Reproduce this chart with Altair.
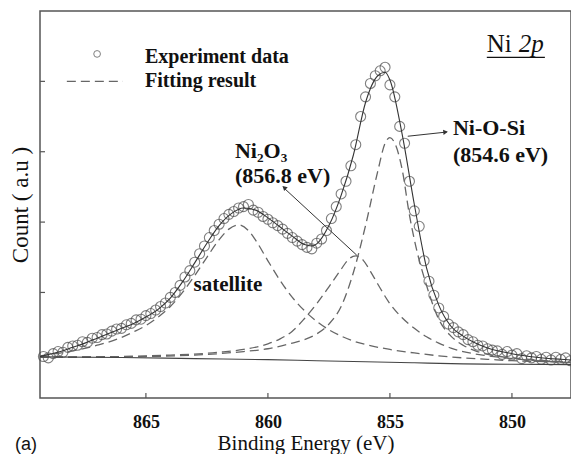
import altair as alt
import pandas as pd

# ---------------- data ----------------
energy = [869.2, 869.0, 868.8, 868.6, 868.4, 868.2, 868.0, 867.8, 867.6, 867.4,
          867.2, 867.0, 866.8, 866.6, 866.4, 866.2, 866.0, 865.8, 865.6, 865.4,
          865.2, 865.0, 864.8, 864.6, 864.4, 864.2, 864.0, 863.8, 863.6, 863.4,
          863.2, 863.0, 862.8, 862.6, 862.4, 862.2, 862.0, 861.8, 861.6, 861.4,
          861.2, 861.0, 860.8, 860.6, 860.4, 860.2, 860.0, 859.8, 859.6, 859.4,
          859.2, 859.0, 858.8, 858.6, 858.4, 858.2, 858.0, 857.8, 857.6, 857.4,
          857.2, 857.0, 856.8, 856.6, 856.4, 856.2, 856.0, 855.8, 855.6, 855.4,
          855.2, 855.0, 854.8, 854.6, 854.4, 854.2, 854.0, 853.8, 853.6, 853.4,
          853.2, 853.0, 852.8, 852.6, 852.4, 852.2, 852.0, 851.8, 851.6, 851.4,
          851.2, 851.0, 850.8, 850.6, 850.4, 850.2, 850.0, 849.8, 849.6, 849.4,
          849.2, 849.0, 848.8, 848.6, 848.4, 848.2, 848.0, 847.8, 847.6]
counts = [0.09, 0.07, 0.13, 0.16, 0.15, 0.22, 0.24, 0.25, 0.30, 0.29,
          0.35, 0.36, 0.40, 0.41, 0.45, 0.48, 0.49, 0.54, 0.56, 0.61,
          0.62, 0.67, 0.70, 0.75, 0.80, 0.85, 0.93, 1.00, 1.10, 1.22,
          1.31, 1.43, 1.55, 1.66, 1.78, 1.88, 1.97, 2.05, 2.11, 2.15,
          2.20, 2.22, 2.25, 2.17, 2.14, 2.08, 2.04, 1.99, 1.95, 1.90,
          1.84, 1.78, 1.73, 1.68, 1.64, 1.62, 1.70, 1.76, 1.88, 2.05,
          2.22, 2.40, 2.58, 2.80, 3.10, 3.50, 3.78, 3.97, 4.08, 4.15,
          4.20, 3.95, 3.78, 3.36, 3.12, 2.58, 2.16, 1.94, 1.45, 1.16,
          0.96, 0.78, 0.66, 0.55, 0.50, 0.44, 0.40, 0.33, 0.30, 0.25,
          0.24, 0.20, 0.18, 0.17, 0.12, 0.16, 0.11, 0.13, 0.06, 0.10,
          0.07, 0.09, 0.05, 0.08, 0.04, 0.08, 0.05, 0.07, 0.03]

fit_E = [869.34, 868.5, 868.0, 867.5, 867.0, 866.5, 866.0, 865.5, 865.0, 864.5,
         864.0, 863.5, 863.0, 862.5, 862.0, 861.5, 861.0, 860.5, 860.0, 859.5,
         859.0, 858.5, 858.2, 858.0, 857.5, 857.0, 856.5, 856.0, 855.5, 855.2,
         855.0, 854.5, 854.0, 853.5, 853.0, 852.5, 852.0, 851.5, 851.0, 850.0,
         849.0, 848.0, 847.58]
fit_v = [0.09, 0.16, 0.22, 0.28, 0.35, 0.42, 0.49, 0.56, 0.65, 0.76,
         0.92, 1.15, 1.42, 1.70, 1.95, 2.12, 2.20, 2.17, 2.06, 1.93,
         1.80, 1.68, 1.66, 1.69, 1.95, 2.38, 2.95, 3.70, 4.08, 4.13,
         4.02, 3.25, 2.25, 1.35, 0.82, 0.52, 0.38, 0.28, 0.21, 0.13,
         0.08, 0.05, 0.04]

sat_E = [869.34, 868.0, 867.0, 866.0, 865.5, 865.0, 864.5, 864.0, 863.5, 863.0,
         862.5, 862.0, 861.6, 861.2, 860.8, 860.5, 860.0, 859.5, 859.0, 858.5,
         858.0, 857.5, 857.0, 856.5, 856.0, 855.0, 854.0, 853.0, 852.0, 851.0,
         850.0, 848.0, 847.58]
sat_v = [0.10, 0.17, 0.25, 0.36, 0.44, 0.53, 0.65, 0.80, 1.00, 1.24,
         1.50, 1.75, 1.90, 1.96, 1.88, 1.74, 1.45, 1.17, 0.93, 0.74,
         0.59, 0.47, 0.38, 0.31, 0.26, 0.19, 0.14, 0.10, 0.07, 0.05,
         0.03, 0.01, 0.00]

ni2o3_E = [869.34, 866.0, 864.0, 862.0, 861.0, 860.0, 859.5, 859.0, 858.5, 858.0,
           857.5, 857.0, 856.7, 856.4, 856.1, 855.8, 855.5, 855.0, 854.5, 854.0,
           853.5, 853.0, 852.5, 852.0, 851.0, 850.0, 849.0, 847.58]
ni2o3_v = [0.08, 0.09, 0.11, 0.15, 0.19, 0.27, 0.34, 0.45, 0.63, 0.84,
           1.08, 1.33, 1.47, 1.52, 1.46, 1.30, 1.12, 0.84, 0.64, 0.49,
           0.37, 0.28, 0.21, 0.16, 0.10, 0.06, 0.03, 0.00]

niosi_E = [869.34, 865.0, 863.0, 861.0, 860.0, 859.0, 858.5, 858.0, 857.5, 857.0,
           856.5, 856.0, 855.5, 855.2, 855.0, 854.8, 854.5, 854.2, 854.0, 853.5,
           853.0, 852.5, 852.0, 851.5, 851.0, 850.0, 849.0, 847.58]
niosi_v = [0.08, 0.09, 0.11, 0.16, 0.20, 0.28, 0.33, 0.41, 0.55, 0.80,
           1.28, 1.95, 2.72, 3.12, 3.20, 3.12, 2.75, 2.10, 1.75, 1.10,
           0.62, 0.38, 0.25, 0.17, 0.12, 0.07, 0.04, 0.01]

bg_E = [869.34, 866.0, 863.0, 860.0, 858.0, 856.0, 854.0, 852.0, 850.0, 847.58]
bg_v = [0.085, 0.075, 0.06, 0.045, 0.03, 0.015, 0.0, -0.015, -0.02, -0.025]

x_ticks = [865, 860, 855, 850]
y_ticks = [1, 2, 3, 4]

# ---------------- tables ----------------
pts = pd.DataFrame({"E": energy, "v": counts})
fit = pd.DataFrame({"E": fit_E, "v": fit_v})
comps = pd.concat([
    pd.DataFrame({"E": sat_E, "v": sat_v, "comp": "satellite"}),
    pd.DataFrame({"E": ni2o3_E, "v": ni2o3_v, "comp": "Ni2O3"}),
    pd.DataFrame({"E": niosi_E, "v": niosi_v, "comp": "Ni-O-Si"}),
])
bg = pd.DataFrame({"E": bg_E, "v": bg_v})

SERIF = "Liberation Serif"
INK = "#111111"
GRAY = "#555555"

xs = alt.Scale(domain=[847.58, 869.34], reverse=True, nice=False, zero=False)
ys = alt.Scale(domain=[-0.5, 5.0], nice=False, zero=False)
x_axis = alt.Axis(values=x_ticks, format="d", title="Binding Energy (eV)",
                  ticks=False, domain=False, grid=False,
                  labelFont=SERIF, labelFontWeight="bold", labelFontSize=18,
                  labelColor=INK, labelPadding=15,
                  titleFont=SERIF, titleFontWeight="normal", titleFontSize=21,
                  titleColor=INK, titlePadding=1)
y_axis = alt.Axis(title="Count ( a.u )", labels=False, ticks=False,
                  domain=False, grid=False,
                  titleFont=SERIF, titleFontWeight="normal", titleFontSize=23,
                  titleColor=INK, titlePadding=8)


def X():
    return alt.X("E:Q", scale=xs, axis=x_axis)


def Y():
    return alt.Y("v:Q", scale=ys, axis=y_axis)


points = alt.Chart(pts).mark_point(
    shape="circle", filled=False, size=100, stroke="#4a4a4a", strokeWidth=1.1
).encode(x=X(), y=Y())

fit_line = alt.Chart(fit).mark_line(color="#333333", strokeWidth=1.1,
                                    interpolate="monotone").encode(x=X(), y=Y())
comp_lines = alt.Chart(comps).mark_line(color="#666666", strokeWidth=1.3,
                                        strokeDash=[9, 5], interpolate="monotone"
                                        ).encode(x=X(), y=Y(), detail="comp:N")
bg_line = alt.Chart(bg).mark_line(color="#444444", strokeWidth=1.1,
                                  interpolate="monotone").encode(x=X(), y=Y())

# inward ticks
xt = alt.Chart(pd.DataFrame({"E": x_ticks})).mark_rule(color=GRAY, strokeWidth=1.2).encode(
    x=X(), y=alt.value(387), y2=alt.value(382))
yt = alt.Chart(pd.DataFrame({"v": y_ticks})).mark_rule(color=GRAY, strokeWidth=1.2).encode(
    y=Y(), x=alt.value(0), x2=alt.value(5))

# ---------------- annotations ----------------
leg_pt = alt.Chart(pd.DataFrame({"E": [867.0], "v": [4.39]})).mark_point(
    shape="circle", filled=False, size=45, stroke="#4a4a4a", strokeWidth=1
).encode(x=X(), y=Y())
leg_line = alt.Chart(pd.DataFrame({"E": [868.24], "E2": [865.94], "v": [4.0]})).mark_rule(
    color="#666666", strokeWidth=1.3, strokeDash=[9, 5]
).encode(x=X(), x2="E2:Q", y=Y())

leg_text = alt.Chart(pd.DataFrame({
    "E": [865.04, 865.04], "v": [4.35, 4.0],
    "t": ["Experiment data", "Fitting result"]})).mark_text(
    align="left", baseline="middle", font=SERIF, fontWeight="bold",
    fontSize=20, color=INK).encode(x=X(), y=Y(), text="t:N")

peak_text = alt.Chart(pd.DataFrame({
    "E": [852.42, 852.42, 861.35, 861.35], "v": [3.34, 2.95, 3.01, 2.655],
    "t": ["Ni-O-Si", "(854.6 eV)", "Ni₂O₃", "(856.8 eV)"]})).mark_text(
    align="left", baseline="middle", font=SERIF, fontWeight="bold",
    fontSize=22, color=INK).encode(x=X(), y=Y(), text="t:N")

sat_text = alt.Chart(pd.DataFrame({"E": [861.64], "v": [1.10], "t": ["satellite"]})).mark_text(
    align="center", baseline="middle", font=SERIF, fontWeight="bold",
    fontSize=21, color=INK).encode(x=X(), y=Y(), text="t:N")

ni_text = alt.Chart(pd.DataFrame({"E": [851.03], "v": [4.42], "t": ["Ni"]})).mark_text(
    align="left", baseline="alphabetic", font=SERIF, fontSize=25, color=INK
).encode(x=X(), y=Y(), text="t:N")
p_text = alt.Chart(pd.DataFrame({"E": [849.72], "v": [4.42], "t": ["2p"]})).mark_text(
    align="left", baseline="alphabetic", font=SERIF, fontSize=25, fontStyle="italic",
    color=INK).encode(x=X(), y=Y(), text="t:N")
underline = alt.Chart(pd.DataFrame({"E": [851.03], "E2": [848.65], "v": [4.34]})).mark_rule(
    color=INK, strokeWidth=1.3).encode(x=X(), x2="E2:Q", y=Y())

arrows = alt.Chart(pd.DataFrame({
    "E": [854.27, 856.36], "E2": [852.67, 859.39],
    "v": [3.22, 1.53], "v2": [3.28, 2.50]})).mark_rule(color="#333333", strokeWidth=1).encode(
    x=X(), x2="E2:Q", y=Y(), y2="v2:Q")
heads = alt.Chart(pd.DataFrame({
    "E": [852.72, 859.33], "v": [3.28, 2.49], "ang": [84, 313]})).mark_point(
    shape="triangle-up", filled=True, size=28, color="#333333", opacity=1).encode(
    x=X(), y=Y(), angle=alt.Angle("ang:Q", scale=None))

a_text = alt.Chart(pd.DataFrame({"t": ["(a)"]})).mark_text(
    align="left", baseline="middle", font="Liberation Sans", fontSize=18, color=INK
).encode(x=alt.value(-25), y=alt.value(434), text="t:N")

chart = alt.layer(
    points, comp_lines, bg_line, fit_line, xt, yt,
    leg_pt, leg_line, leg_text, peak_text, sat_text, ni_text, p_text, underline,
    arrows, heads, a_text
).properties(
    width=531, height=387,
    autosize=alt.AutoSizeParams(type="none"),
    padding={"left": 32, "top": 3, "right": 0, "bottom": 56},
    background="white",
).configure_view(stroke=GRAY, strokeWidth=1.5)

chart.save("out.html", embed_options={"renderer": "svg", "actions": False})
